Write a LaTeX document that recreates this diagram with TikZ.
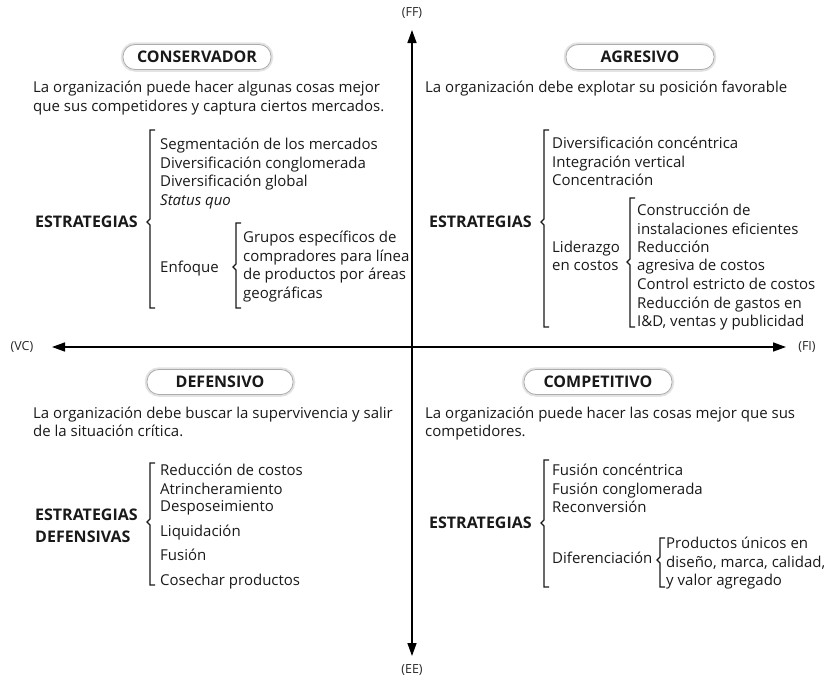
\documentclass[tikz,border=0pt]{standalone}
\usepackage{fontspec}
\setmainfont{Open Sans}
\usetikzlibrary{arrows.meta}

\tikzset{
  txt/.style={anchor=base west, inner sep=0pt, font=\fontsize{15}{18}\selectfont, text=black!90},
  head/.style={txt, font=\fontsize{16}{18}\selectfont\bfseries},
  pill/.style={draw=gray!65, line width=0.8pt, fill=white, rounded corners=12pt,
    minimum height=25pt, inner sep=0pt, font=\fontsize{16}{18}\selectfont\bfseries, text=black!90,
    preaction={draw=gray!22, line width=4.5pt}},
  axis/.style={line width=1.5pt, -{Triangle[length=13pt,width=9pt]}},
  axlabel/.style={inner sep=0pt, font=\fontsize{12.5}{14}\selectfont, text=black!85},
  brk/.style={line width=1.1pt, black!90}
}

% square bracket with a small point at its middle
\newcommand{\strbrace}[4]{% x, top, bottom, tip
  \draw[brk] (#1+5,#2) -- (#1,#2) -- (#1,#4-3) -- (#1-3,#4) -- (#1,#4+3) -- (#1,#3) -- (#1+5,#3);
}

\begin{document}
\begin{tikzpicture}[x=1pt,y=-1pt]
\useasboundingbox (0,0) rectangle (824,680);

% axes
\coordinate (O) at (412,347);
\node[axlabel] (ff) at (412,13) {(FF)};
\node[axlabel] (ee) at (412,670) {(EE)};
\node[axlabel] (vc) at (22,347) {(VC)};
\node[axlabel] (fi) at (807,347) {(FI)};
\coordinate (top) at (412,30);
\coordinate (bot) at (412,656);
\coordinate (lft) at (52,347);
\coordinate (rgt) at (786,347);
\draw[axis] (O) -- (top);
\draw[axis] (O) -- (bot);
\draw[axis] (O) -- (lft);
\draw[axis] (O) -- (rgt);

% ---------- CONSERVADOR ----------
\node[pill, minimum width=148pt] (pc) at (197,57) {CONSERVADOR};
\node[txt] (cd1) at (33,92) {La organización puede hacer algunas cosas mejor};
\node[txt] (cd2) at (33,111) {que sus competidores y captura ciertos mercados.};
\node[head] (ce) at (35,227) {ESTRATEGIAS};
\strbrace{150}{130}{308}{222}
\node[txt] (c1) at (160,149) {Segmentación de los mercados};
\node[txt] (c2) at (160,168) {Diversificación conglomerada};
\node[txt] (c3) at (160,186) {Diversificación global};
\node[txt] (c4) at (160,205) {\itshape Status quo};
\node[txt] (cen) at (160,272) {Enfoque};
\strbrace{236}{223}{308}{267}
\node[txt] (g1) at (243,242) {Grupos específicos de};
\node[txt] (g2) at (243,261) {compradores para línea};
\node[txt] (g3) at (243,279) {de productos por áreas};
\node[txt] (g4) at (243,298) {geográficas};

% ---------- AGRESIVO ----------
\node[pill, minimum width=148pt] (pa) at (640,57) {AGRESIVO};
\node[txt] (ad1) at (425,92) {La organización debe explotar su posición favorable};
\node[head] (ae) at (429,227) {ESTRATEGIAS};
\strbrace{544}{130}{327}{222}
\node[txt] (a1) at (552,148) {Diversificación concéntrica};
\node[txt] (a2) at (552,167) {Integración vertical};
\node[txt] (a3) at (552,185) {Concentración};
\node[txt] (al1) at (552,252) {Liderazgo};
\node[txt] (al2) at (552,270) {en costos};
\strbrace{630}{198}{327}{262}
\node[txt] (l1) at (637,215) {Construcción de};
\node[txt] (l2) at (637,234) {instalaciones eficientes};
\node[txt] (l3) at (637,252) {Reducción};
\node[txt] (l4) at (637,270) {agresiva de costos};
\node[txt] (l5) at (637,289) {Control estricto de costos};
\node[txt] (l6) at (637,308) {Reducción de gastos en};
\node[txt] (l7) at (637,326) {I\&D, ventas y publicidad};

% ---------- DEFENSIVO ----------
\node[pill, minimum width=146pt] (pd) at (220,382) {DEFENSIVO};
\node[txt] (dd1) at (33,418) {La organización debe buscar la supervivencia y salir};
\node[txt] (dd2) at (33,436) {de la situación crítica.};
\node[head] (de1) at (35,520) {ESTRATEGIAS};
\node[head] (de2) at (35,542) {DEFENSIVAS};
\strbrace{150}{463}{585}{522}
\node[txt] (d1) at (160,475) {Reducción de costos};
\node[txt] (d2) at (160,494) {Atrincheramiento};
\node[txt] (d3) at (160,511) {Desposeimiento};
\node[txt] (d4) at (160,536) {Liquidación};
\node[txt] (d5) at (160,560) {Fusión};
\node[txt] (d6) at (160,585) {Cosechar productos};

% ---------- COMPETITIVO ----------
\node[pill, minimum width=148pt] (pt) at (598,382) {COMPETITIVO};
\node[txt] (td1) at (425,418) {La organización puede hacer las cosas mejor que sus};
\node[txt] (td2) at (425,436) {competidores.};
\node[head] (te) at (429,528) {ESTRATEGIAS};
\strbrace{544}{460}{587}{523}
\node[txt] (t1) at (552,475) {Fusión concéntrica};
\node[txt] (t2) at (552,494) {Fusión conglomerada};
\node[txt] (t3) at (552,512) {Reconversión};
\node[txt] (tdf) at (552,563) {Diferenciación};
\strbrace{660}{538}{587}{560}
\node[txt] (p1) at (666,548) {Productos únicos en};
\node[txt] (p2) at (666,567) {diseño, marca, calidad,};
\node[txt] (p3) at (666,585) {y valor agregado};
\end{tikzpicture}
\end{document}
